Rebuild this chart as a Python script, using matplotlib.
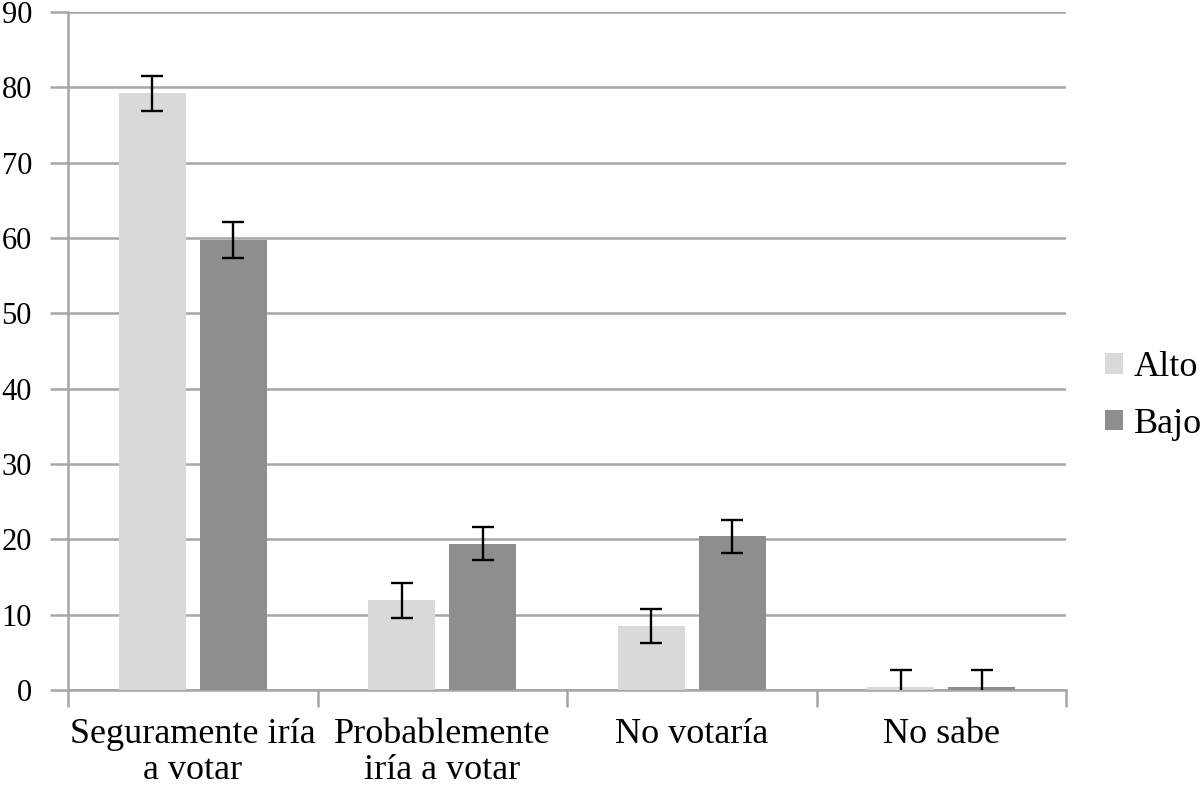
import matplotlib
matplotlib.use("Agg")
import matplotlib.pyplot as plt
import numpy as np

categories = ["Seguramente iría\na votar", "Probablemente\niría a votar", "No votaría", "No sabe"]
series_names = ["Alto", "Bajo"]
alto = [79.2, 11.9, 8.5, 0.4]
bajo = [59.7, 19.4, 20.4, 0.4]
alto_err = [2.3, 2.3, 2.2, 2.3]
bajo_err = [2.4, 2.2, 2.2, 2.3]
yticks = [0, 10, 20, 30, 40, 50, 60, 70, 80, 90]

plt.rcParams['font.family'] = ['Liberation Serif', 'DejaVu Serif']
FS = 26

fig = plt.figure(figsize=(12.04, 7.86), dpi=100)
ax = fig.add_axes([68/1204, 1-690/786, (1066-68)/1204, (690-12)/786])

x = np.arange(len(categories))
w = 0.268
off = 0.162
c_alto = "#d9d9d9"
c_bajo = "#8e8e8e"
ax.bar(x - off, alto, w, color=c_alto, zorder=3, label=series_names[0])
ax.bar(x + off, bajo, w, color=c_bajo, zorder=3, label=series_names[1])
ax.errorbar(x - off, alto, yerr=alto_err, fmt='none', ecolor='black', elinewidth=1.7,
            capsize=8, capthick=1.7, zorder=4)
ax.errorbar(x + off, bajo, yerr=bajo_err, fmt='none', ecolor='black', elinewidth=1.7,
            capsize=8, capthick=1.7, zorder=4)

ax.set_xlim(-0.5, len(categories) - 0.5)
ax.set_ylim(0, 90)
ax.set_yticks(yticks)
ax.set_yticklabels([str(v) for v in yticks], fontsize=22)
ax.yaxis.grid(True, color="#a6a6a6", linewidth=1.8, zorder=0)
ax.set_axisbelow(True)
ax.tick_params(axis='y', length=13, width=1.8, color="#a6a6a6", pad=13)

ax.set_xticks(np.arange(len(categories) + 1) - 0.5)
ax.set_xticklabels([])
ax.set_xticks(x, minor=True)
ax.set_xticklabels(categories, minor=True, fontsize=FS, linespacing=1.12)
ax.tick_params(axis='x', which='major', length=12, width=1.8, color="#a6a6a6")
ax.tick_params(axis='x', which='minor', length=0, pad=20)

for s in ['top', 'right']:
    ax.spines[s].set_visible(False)
for s in ['left', 'bottom']:
    ax.spines[s].set_color("#a6a6a6")
    ax.spines[s].set_linewidth(1.8)

fig.legend(loc='center left', bbox_to_anchor=(1105/1204, 1-396/786), frameon=False,
           fontsize=FS, handlelength=0.5, handleheight=0.5, handletextpad=0.3,
           labelspacing=0.65, borderaxespad=0, borderpad=0)

fig.savefig("out.png", dpi=100)
